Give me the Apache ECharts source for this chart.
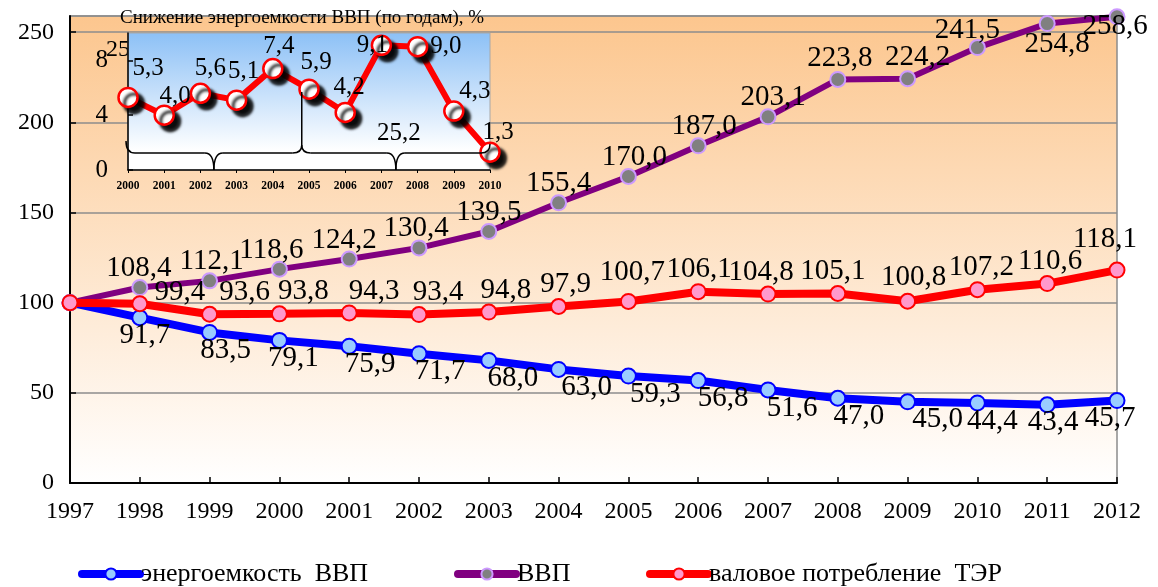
<!DOCTYPE html>
<html>
<head>
<meta charset="utf-8">
<title>Энергоемкость ВВП</title>
<script src="https://cdn.jsdelivr.net/npm/echarts@6/dist/echarts.min.js"></script>
<style>
  html, body { margin: 0; padding: 0; background: #ffffff; }
  #chart { width: 1158px; height: 587px; }
</style>
</head>
<body>
<div id="chart"></div>
<script>
// ---- data -------------------------------------------------------------
const years = ['1997','1998','1999','2000','2001','2002','2003','2004',
               '2005','2006','2007','2008','2009','2010','2011','2012'];
const intensity   = [100, 91.7, 83.5, 79.1, 75.9, 71.7, 68.0, 63.0, 59.3, 56.8, 51.6, 47.0, 45.0, 44.4, 43.4, 45.7];
const gdp         = [100, 108.4, 112.1, 118.6, 124.2, 130.4, 139.5, 155.4, 170.0, 187.0, 203.1, 223.8, 224.2, 241.5, 254.8, 258.6];
const consumption = [100, 99.4, 93.6, 93.8, 94.3, 93.4, 94.8, 97.9, 100.7, 106.1, 104.8, 105.1, 100.8, 107.2, 110.6, 118.1];
const yTicks = [0, 50, 100, 150, 200, 250];

const insetYears   = ['2000','2001','2002','2003','2004','2005','2006','2007','2008','2009','2010'];
const insetDecline = [5.3, 4.0, 5.6, 5.1, 7.4, 5.9, 4.2, 9.1, 9.0, 4.3, 1.3];
const insetTicks   = [0, 4, 8];
const periodTotals = ['25', '25,2'];

const names = ['энергоемкость  ВВП', 'ВВП', 'валовое потребление  ТЭР'];
const insetTitle = 'Снижение энергоемкости ВВП (по годам), %';

// ---- styling ----------------------------------------------------------
const SERIF = '"Liberation Serif", "DejaVu Serif", "Times New Roman", serif';
const fmt = v => v.toFixed(1).replace('.', ',');

// per-point label nudges [dx, dy] so neighbouring labels stay readable
const nudgeIntensity = [[0,0],[5,0],[16,0],[14,0],[21,0],[21,0],[24,0],[28,0],[27,0],[25,0],[24,0],[21,0],[30,0],[15,0],[6,0],[-7,0]];
const nudgeGdp       = [[0,0],[-1,0],[2,0],[-8,0],[-5,0],[-3,0],[0,0],[0,0],[6,0],[6,0],[5,0],[2,-2],[10,-2],[-10,2],[10,0],[-2,10]];
const nudgeCons      = [[0,0],[40,11],[35,0],[24,0],[25,0],[19,0],[17,0],[7,0],[4,-7],[1,0],[-7,0],[-5,0],[6,-2],[4,0],[3,0],[-12,-9]];
const nudgeInset     = [[20,-7],[11,3],[10,-3],[7,-6],[6,0],[7,-4],[4,-3],[-9,0],[0,0],[21,3],[8,2]];

function mainPoints(values, nudges, special) {
  return values.map((v, i) => {
    const item = { value: v, label: { offset: nudges[i] } };
    if (i === 0) item.label.show = false;
    if (special && special[i]) Object.assign(item.label, special[i]);
    return item;
  });
}

const labelBase = {
  show: true,
  formatter: p => fmt(p.value),
  fontSize: 29,
  fontFamily: SERIF,
  color: '#000000'
};

const legendCommon = {
  top: 556, itemWidth: 58, itemHeight: 14, itemGap: 0,
  lineStyle: { width: 8, cap: 'round' },
  textStyle: { fontSize: 26, fontFamily: SERIF, color: '#000000', padding: [0, 0, 0, -4] }
};

const chart = echarts.init(document.getElementById('chart'), null, { renderer: 'canvas' });

const option = {
  animation: false,
  backgroundColor: '#ffffff',
  textStyle: { fontFamily: SERIF },
  grid: [
    {
      left: 70, right: 41, top: 16, bottom: 104,
      show: true,
      backgroundColor: {
        type: 'linear', x: 0, y: 0, x2: 0, y2: 1,
        colorStops: [{ offset: 0, color: '#FCC68E' }, { offset: 1, color: '#FFFFFF' }]
      },
      borderColor: '#8C8C8C', borderWidth: 1.5,
      z: 0
    },
    {
      left: 128, top: 33, width: 362, height: 137,
      show: true,
      backgroundColor: {
        type: 'linear', x: 0, y: 0, x2: 0, y2: 1,
        colorStops: [{ offset: 0, color: '#8CC0F6' }, { offset: 0.86, color: '#FFFFFF' }, { offset: 1, color: '#FFFFFF' }]
      },
      borderColor: '#A8A8A8', borderWidth: 1,
      z: 5
    }
  ],
  xAxis: [
    {
      type: 'category', gridIndex: 0, data: years, boundaryGap: false,
      axisLine: { lineStyle: { color: '#000000', width: 2 } },
      axisTick: { inside: true, length: 6, lineStyle: { color: '#000000', width: 1.5 } },
      axisLabel: { color: '#000000', fontSize: 24, fontFamily: SERIF, margin: 17 },
      splitLine: { show: false }
    },
    {
      type: 'category', gridIndex: 1, data: insetYears, boundaryGap: false,
      axisLine: { lineStyle: { color: '#000000', width: 1.5 } },
      axisTick: { length: 3, lineStyle: { color: '#000000', width: 1 } },
      axisLabel: { color: '#000000', fontSize: 11.5, fontWeight: 'bold', fontFamily: SERIF, margin: 10 },
      splitLine: { show: false },
      z: 6
    }
  ],
  yAxis: [
    {
      type: 'value', gridIndex: 0, min: yTicks[0], max: 259, interval: yTicks[1] - yTicks[0],
      axisLine: { show: true, lineStyle: { color: '#000000', width: 2 } },
      axisTick: { show: true, inside: true, length: 6, lineStyle: { color: '#000000', width: 1.5 } },
      axisLabel: { color: '#000000', fontSize: 24, fontFamily: SERIF, margin: 16, showMaxLabel: false },
      splitLine: { lineStyle: { color: '#8C8C8C', width: 1.5 } }
    },
    {
      type: 'value', gridIndex: 1, min: insetTicks[0], max: 10, interval: insetTicks[1] - insetTicks[0],
      axisLine: { show: true, lineStyle: { color: '#000000', width: 1.5 } },
      axisTick: { show: true, inside: true, length: 5, lineStyle: { color: '#000000', width: 1.5 } },
      axisLabel: { color: '#000000', fontSize: 25, fontFamily: SERIF, margin: 20, showMaxLabel: false },
      splitLine: { show: false },
      z: 6
    }
  ],
  legend: [
    Object.assign({ data: [names[0]], left: 73 }, legendCommon),
    Object.assign({ data: [names[1]], left: 449 }, legendCommon),
    Object.assign({ data: [names[2]], left: 641 }, legendCommon)
  ],
  series: [
    {
      name: names[0], type: 'line', xAxisIndex: 0, yAxisIndex: 0,
      data: mainPoints(intensity, nudgeIntensity),
      symbol: 'circle', symbolSize: 15,
      lineStyle: { color: '#0000FF', width: 8 },
      itemStyle: { color: '#99CCFF', borderColor: '#0000FF', borderWidth: 2 },
      label: Object.assign({}, labelBase, { position: 'bottom', distance: -5 }),
      z: 2
    },
    {
      name: names[1], type: 'line', xAxisIndex: 0, yAxisIndex: 0,
      data: mainPoints(gdp, nudgeGdp, { 14: { position: 'bottom', distance: -2 }, 15: { position: 'inside' } }),
      symbol: 'circle', symbolSize: 15,
      lineStyle: { color: '#800080', width: 6 },
      itemStyle: { color: '#808080', borderColor: '#CC99FF', borderWidth: 2 },
      label: Object.assign({}, labelBase, { position: 'top', distance: -4 }),
      z: 3
    },
    {
      name: names[2], type: 'line', xAxisIndex: 0, yAxisIndex: 0,
      data: mainPoints(consumption, nudgeCons),
      symbol: 'circle', symbolSize: 15,
      lineStyle: { color: '#FF0000', width: 8 },
      itemStyle: { color: '#FF99CC', borderColor: '#FF0000', borderWidth: 2 },
      label: Object.assign({}, labelBase, { position: 'top', distance: -1 }),
      z: 4
    },
    {
      type: 'line', xAxisIndex: 1, yAxisIndex: 1,
      data: insetDecline.map((v, i) => {
        const item = { value: v, label: { offset: nudgeInset[i] } };
        if (i === 7) item.label.position = 'inside';
        if (i === 8) { item.label.position = 'right'; item.label.distance = 2; }
        return item;
      }),
      symbol: 'circle', symbolSize: 19,
      lineStyle: { color: '#FF0000', width: 6 },
      itemStyle: {
        color: '#FFFFFF', borderColor: '#FF0000', borderWidth: 2.5,
        shadowColor: 'rgba(0,0,0,0.95)', shadowBlur: 3, shadowOffsetX: 6, shadowOffsetY: 6
      },
      label: Object.assign({}, labelBase, { fontSize: 25, position: 'top', distance: -1 }),
      z: 10
    }
  ]
};

chart.setOption(option);

// ---- inset decorations: title, period braces and their totals ----------
const px = v => chart.convertToPixel({ xAxisIndex: 1 }, v);
const py = v => chart.convertToPixel({ yAxisIndex: 1 }, v);

const x0 = px(0), x5 = px(4) + (px(5) - px(4)) * 0.8, x10 = px(10);
const yBase = py(0);
const yBar = yBase - 17;   // horizontal run of each brace
const yHook = yBase - 29;  // tip of the curled ends
const stroke = { fill: null, stroke: '#000000', lineWidth: 1.5 };

function curve(x1, y1, cx, cy, x2, y2) {
  return { type: 'bezierCurve', z: 12, silent: true,
           shape: { x1: x1, y1: y1, cpx1: cx, cpy1: cy, x2: x2, y2: y2 }, style: stroke };
}
function segment(x1, y1, x2, y2) {
  return { type: 'line', z: 12, silent: true,
           shape: { x1: x1, y1: y1, x2: x2, y2: y2 }, style: stroke };
}
function brace(a, b, leftTip, rightTip) {
  const m = (a + b) / 2, r = 9;
  return [
    curve(a, leftTip, a, yBar, a + r, yBar),
    segment(a + r, yBar, m - r, yBar),
    curve(m - r, yBar, m, yBar, m, yBase),
    curve(m, yBase, m, yBar, m + r, yBar),
    segment(m + r, yBar, b - r, yBar),
    curve(b - r, yBar, b, yBar, b, rightTip)
  ];
}

const decorations = [].concat(
  [{
    type: 'text', left: 120, top: 9, z: 20,
    style: { text: insetTitle, fontSize: 19, fontFamily: SERIF, fill: '#000000' }
  }],
  brace(x0 - 2, x5, yHook, yBar - 8),
  brace(x5, x10, yBar - 8, yHook + 3),
  [segment(x5, py(5.7), x5, yBar - 8)],
  [{
    type: 'text', z: 4, silent: true,
    x: x0 - 22, y: py(8.8),
    style: { text: periodTotals[0], fontSize: 24, fontFamily: SERIF, fill: '#000000', align: 'left', verticalAlign: 'middle' }
  }, {
    type: 'text', z: 12, silent: true,
    x: (x5 + x10) / 2 + 3, y: yBar - 20,
    style: { text: periodTotals[1], fontSize: 25, fontFamily: SERIF, fill: '#000000', align: 'center', verticalAlign: 'middle' }
  }]
);

chart.setOption({ graphic: decorations });
</script>
</body>
</html>
